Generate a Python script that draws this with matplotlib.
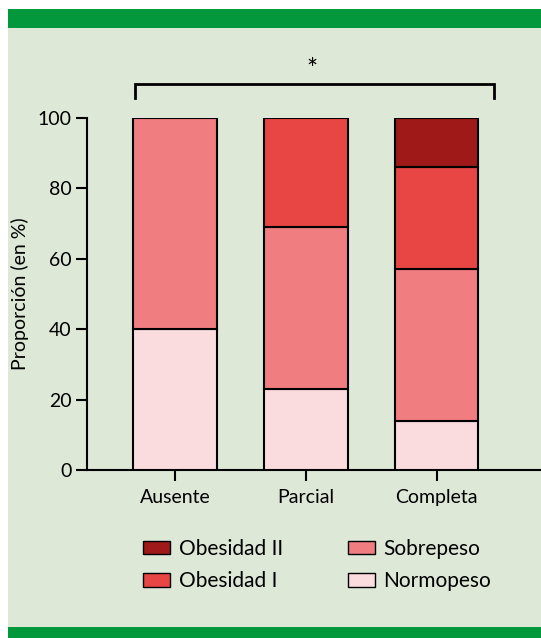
import numpy as np
import matplotlib
matplotlib.use('Agg')
import matplotlib.pyplot as plt
from matplotlib.patches import Rectangle, Patch

plt.rcParams['font.family'] = ['Lato', 'DejaVu Sans']

categories = ['Ausente', 'Parcial', 'Completa']
normopeso = [40, 23, 14]
sobrepeso = [60, 46, 43]
obesidad1 = [0, 31, 29]
obesidad2 = [0, 0, 14]

series = [('Normopeso', normopeso, '#FADCDF'),
          ('Sobrepeso', sobrepeso, '#F07D80'),
          ('Obesidad I', obesidad1, '#E84545'),
          ('Obesidad II', obesidad2, '#9E1917')]

W, H = 541, 638
fig = plt.figure(figsize=(W / 100, H / 100), dpi=100)
fig.patch.set_facecolor('white')

# page background and green rules
fig.patches.append(Rectangle((8 / W, 0), 1, (H - 9) / H, transform=fig.transFigure,
                             facecolor='#DDE8D7', edgecolor='none', zorder=-10))
fig.patches.append(Rectangle((8 / W, (H - 28) / H), 1, 19 / H, transform=fig.transFigure,
                             facecolor='#03983B', edgecolor='none', zorder=-9))
fig.patches.append(Rectangle((8 / W, 0), 1, 11 / H, transform=fig.transFigure,
                             facecolor='#03983B', edgecolor='none', zorder=-9))

ax = fig.add_axes([87 / W, (H - 470) / H, 1 - 87 / W, (470 - 118) / H])
ax.set_facecolor('none')

x = np.arange(len(categories))
bottom = np.zeros(len(categories))
for name, vals, col in series:
    vals = np.array(vals, dtype=float)
    mask = vals > 0
    ax.bar(x[mask], vals[mask], 0.64, bottom=bottom[mask], color=col,
           edgecolor='black', linewidth=1.5, zorder=3)
    bottom += vals

ax.set_xlim(-0.672, 2.798)
ax.set_ylim(0, 100)
ax.set_yticks([0, 20, 40, 60, 80, 100])
ax.set_xticks(x)
ax.set_xticklabels(categories)
ax.tick_params(axis='both', length=8, width=1.5, labelsize=14, direction='out')
ax.tick_params(axis='y', pad=3)
ax.tick_params(axis='x', pad=6)
for s in ['top', 'right']:
    ax.spines[s].set_visible(False)
for s in ['left', 'bottom']:
    ax.spines[s].set_linewidth(1.5)
ax.set_ylabel('Proporción (en %)', fontsize=14, labelpad=6)

# significance bracket
ax.plot([-0.305, -0.305, 2.435, 2.435], [105.7, 109.6, 109.6, 105.7], color='black',
        linewidth=2, clip_on=False, solid_joinstyle='miter')
ax.text(1.05, 113.5, '*', ha='center', va='center', fontsize=19)

handles = [Patch(facecolor=c, edgecolor='black', linewidth=1, label=n)
           for n, v, c in series[::-1]]
fig.legend(handles=handles, ncol=2, loc='center', bbox_to_anchor=(0.586, (H - 565) / H),
           frameon=False, fontsize=15, handlelength=1.3, handleheight=0.6,
           handletextpad=0.4, columnspacing=3.1, labelspacing=0.6)

fig.savefig('out.png', dpi=100)
